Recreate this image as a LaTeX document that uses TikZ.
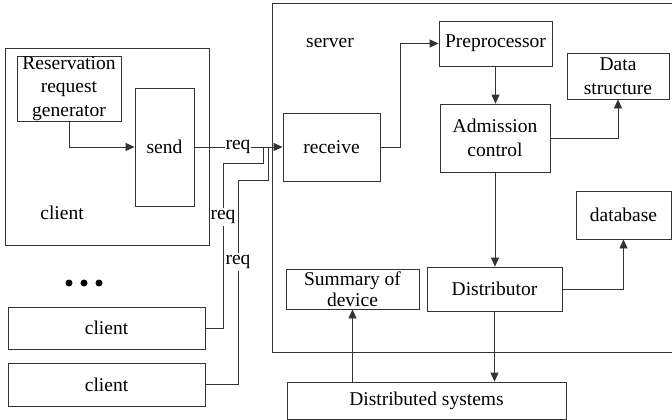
\documentclass[tikz,border=0pt]{standalone}
\usepackage{fontspec}
\setmainfont{Liberation Serif}
\usetikzlibrary{arrows.meta}
\begin{document}
\begin{tikzpicture}[x=1pt,y=-1pt,
  every node/.style={font=\fontsize{19.5}{23.5}\selectfont, inner sep=0pt},
  box/.style={draw=black!80, line width=0.8pt, align=center, fill=white},
  ln/.style={draw=black!80, line width=0.8pt},
  arr/.style={ln, -{Triangle[length=9pt,width=8pt]}},
  lbl/.style={fill=white, inner xsep=1pt, inner ysep=0pt}]
\useasboundingbox (0,0) rectangle (672,420);
% client side
\node[box, minimum width=204pt, minimum height=197pt] (clientA) at (107,146.5) {};
\node[box, minimum width=104pt, minimum height=65pt] (resv) at (69,88.5) {Reservation\\request\\generator};
\node[box, minimum width=59pt, minimum height=118pt] (send) at (164.5,147) {send};
\node (clientlbl) at (62,213) {client};
\node[box, minimum width=197pt, minimum height=42pt] (client2) at (106.5,328) {client};
\node[box, minimum width=197pt, minimum height=43pt] (client3) at (106.5,384.5) {client};
\foreach \x in {69,84,99} \fill (\x,283) circle (3.5pt);
% server
\draw[ln] (673,3) -- (272,3) -- (272,352) -- (673,352);
\node (serverlbl) at (330,43) {server};
\node[box, minimum width=97pt, minimum height=68pt] (receive) at (331.5,147) {receive};
\node[box, minimum width=113pt, minimum height=45pt] (preproc) at (495.5,43.5) {Preprocessor};
\node[box, minimum width=102pt, minimum height=46pt] (datastruct) at (618,76) {Data\\structure};
\node[box, minimum width=110pt, minimum height=68pt] (admission) at (495,138) {Admission\\control};
\node[box, minimum width=135pt, minimum height=44pt] (distributor) at (494.5,289) {Distributor};
\node[box, minimum width=95pt, minimum height=48pt] (database) at (623.5,215) {database};
\node[box, minimum width=133pt, minimum height=40pt] (summary) at (352.5,289) {Summary of\\[-2pt]device};
\node[box, minimum width=279pt, minimum height=37pt] (distsys) at (426.5,400.5) {Distributed systems};
% connectors
\coordinate (j2) at (263,147);
\coordinate (j3) at (268,147);
\draw[arr] (resv.south) |- (send.west);
\draw[ln] (client2.east) -| (223,163) -| (j2);
\draw[ln] (client3.east) -| (238,180) -| (j3);
\draw[arr] (send.east) -- (receive.west);
\node[lbl] (req1) at (238,147) {req};
\node[lbl, inner ysep=2pt] (req2) at (223,217) {req};
\node[lbl, inner ysep=2pt] (req3) at (238,262) {req};
\draw[arr] (receive.east) -- ++(20,0) |- (preproc.west);
\draw[arr] (preproc.south) -- (preproc.south |- admission.north);
\draw[arr] (admission.east) -| (datastruct.south);
\draw[arr] (admission.south) -- (admission.south |- distributor.north);
\draw[arr] (distributor.east) -| (database.south);
\draw[arr] (distributor.south) -- (distributor.south |- distsys.north);
\draw[arr] (summary.south |- distsys.north) -- (summary.south);
\end{tikzpicture}
\end{document}
